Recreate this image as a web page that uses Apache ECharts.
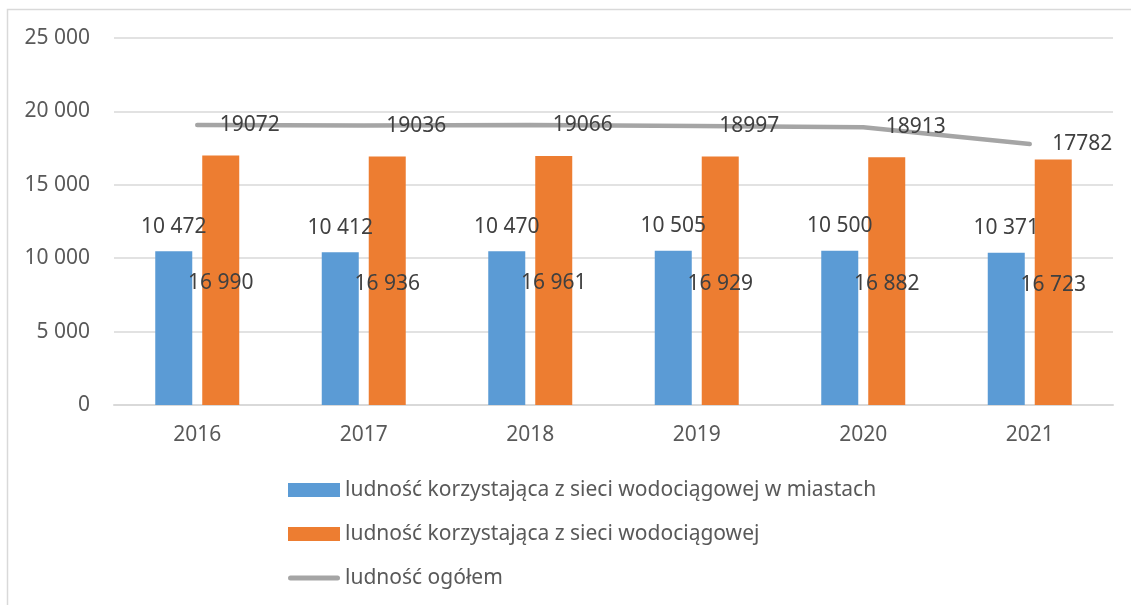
<!DOCTYPE html>
<html>
<head>
<meta charset="utf-8">
<script src="https://cdn.jsdelivr.net/npm/echarts@6/dist/echarts.min.js"></script>
<style>html,body{margin:0;padding:0;background:#fff;}#c{width:1131px;height:605px;}</style>
</head>
<body>
<div id="c"></div>
<script>
const categories = ['2016', '2017', '2018', '2019', '2020', '2021'];
const cityUsers = [10472, 10412, 10470, 10505, 10500, 10371];
const allUsers = [16990, 16936, 16961, 16929, 16882, 16723];
const totalPop = [19072, 19036, 19066, 18997, 18913, 17782];
const seriesNames = [
  'ludność korzystająca z sieci wodociągowej w miastach',
  'ludność korzystająca z sieci wodociągowej',
  'ludność ogółem'
];
const yTicks = { min: 0, max: 25000, interval: 5000 };

const FONT = 'Noto Sans';
const fmt = v => String(v).replace(/\B(?=(\d{3})+(?!\d))/g, ' ');

const chart = echarts.init(document.getElementById('c'));
chart.setOption({
  backgroundColor: '#fff',
  animation: false,
  textStyle: { fontFamily: FONT },
  graphic: [{
    type: 'rect', silent: true, z: -10,
    shape: { x: 7.5, y: 9.5, width: 1140, height: 620 },
    style: { fill: 'none', stroke: '#d9d9d9', lineWidth: 1.5 }
  }],
  grid: { left: 114, right: 18, top: 38, bottom: 200 },
  legend: {
    orient: 'vertical', left: 288, top: 479, padding: 0,
    itemWidth: 52, itemHeight: 14, itemGap: 22,
    textStyle: { fontFamily: FONT, fontSize: 21, color: '#595959', lineHeight: 22 },
    data: [
      { name: seriesNames[0], icon: 'rect' },
      { name: seriesNames[1], icon: 'rect' },
      { name: seriesNames[2], icon: 'path://M2.5,0 L49.5,0 A2.5,2.5 0 0 1 49.5,5 L2.5,5 A2.5,2.5 0 0 1 2.5,0 Z' }
    ]
  },
  xAxis: {
    type: 'category', data: categories,
    axisLine: { lineStyle: { color: '#d9d9d9', width: 2 } },
    axisTick: { show: false },
    axisLabel: { fontFamily: FONT, fontSize: 21, color: '#595959', margin: 20 }
  },
  yAxis: {
    type: 'value', min: yTicks.min, max: yTicks.max, interval: yTicks.interval,
    axisLine: { show: false }, axisTick: { show: false },
    splitLine: { lineStyle: { color: '#d9d9d9', width: 1.5 } },
    axisLabel: { fontFamily: FONT, fontSize: 21, color: '#595959', margin: 24, formatter: fmt }
  },
  series: [
    {
      name: seriesNames[0], type: 'bar', data: cityUsers,
      barWidth: 37, barGap: '27%',
      itemStyle: { color: '#5b9bd5' },
      label: { show: true, position: 'top', distance: 14, fontFamily: FONT, fontSize: 21, color: '#404040', formatter: p => fmt(p.value) }
    },
    {
      name: seriesNames[1], type: 'bar', data: allUsers,
      barWidth: 37,
      itemStyle: { color: '#ed7d31' },
      label: { show: true, position: 'inside', offset: [0, 3], fontFamily: FONT, fontSize: 21, color: '#404040', formatter: p => fmt(p.value) }
    },
    {
      name: seriesNames[2], type: 'line', data: totalPop,
      symbol: 'circle', symbolSize: 1, showSymbol: true,
      lineStyle: { color: '#a5a5a5', width: 4.5, cap: 'round' },
      itemStyle: { color: '#a5a5a5' },
      label: { show: true, position: 'right', distance: 22, fontFamily: FONT, fontSize: 21, color: '#404040' }
    }
  ]
});
</script>
</body>
</html>
